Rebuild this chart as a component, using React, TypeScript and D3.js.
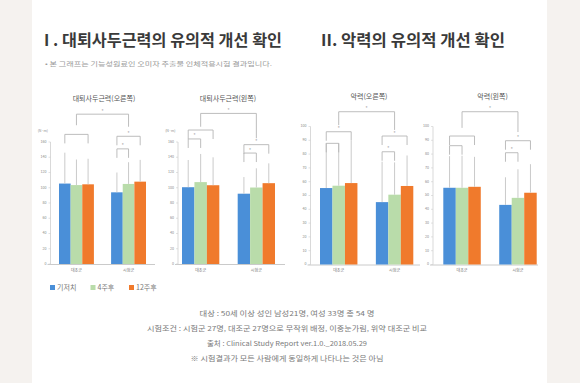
import React from "react";
import * as d3 from "d3";

const groups = ["대조군", "시험군"];
const seriesNames = ["기저치", "4주후", "12주후"];
const seriesColors = ["#4a8fd8", "#b9dcaa", "#f07a2c"];

const chartTitles = ["대퇴사두근력(오른쪽)", "대퇴사두근력(왼쪽)", "악력(오른쪽)", "악력(왼쪽)"];
const torqueTicks = [0, 20, 40, 60, 80, 100, 120, 140, 160];
const gripTicks = [0, 10, 20, 30, 40, 50, 60, 70, 80, 90, 100];
const torqueUnit = "(N·m)";

// means [group][series], upper error bar end [group][series]
const kneeRightMeans = [[105.5, 103.5, 104.5], [94, 105, 108]];
const kneeRightErr = [[146, 137, 138], [120, 133.5, 136.5]];
const kneeLeftMeans = [[100.7, 107.4, 103.3], [92.2, 100.3, 106]];
const kneeLeftErr = [[136.4, 144.3, 139.9], [114, 125.5, 132]];
const gripRightMeans = [[55.4, 57.1, 59], [45.2, 50.6, 56.9]];
const gripRightErr = [[88, 88, 89.5], [74.5, 74, 79]];
const gripLeftMeans = [[55.6, 55.6, 56.3], [43.2, 48.3, 52]];
const gripLeftErr = [[78.5, 78.8, 78], [63.2, 69, 72.7]];

// significance brackets: [groupA, seriesA, groupB, seriesB, level, legEndA, legEndB, star]
const kneeRightBrackets: any[] = [
  [0, 1, 1, 1, 196.5, 182, 180, true],
  [0, 0, 0, 2, 170, null, null, false],
  [1, 0, 1, 2, 167.5, null, null, true],
  [1, 0, 1, 1, 151, null, null, true],
];
const kneeLeftBrackets: any[] = [
  [0, 1, 1, 1, 197.5, 180, 165, true],
  [0, 0, 0, 2, 175.7, null, null, false],
  [0, 0, 0, 1, 164, null, null, true],
  [1, 0, 1, 2, 156.5, null, null, true],
  [1, 0, 1, 1, 145.5, null, null, true],
];
const gripRightBrackets: any[] = [
  [0, 1, 1, 1, 110.7, 101, 97.5, true],
  [0, 0, 0, 2, 96.2, null, null, true],
  [0, 0, 0, 1, 87.8, null, null, false],
  [1, 0, 1, 2, 93.1, null, null, true],
  [1, 0, 1, 1, 81.7, null, null, true],
];
const gripLeftBrackets: any[] = [
  [0, 1, 1, 1, 110.7, 99, 96, true],
  [0, 0, 0, 2, 93.1, null, null, false],
  [0, 0, 0, 1, 86.1, null, null, false],
  [1, 0, 1, 2, 89.7, null, null, true],
  [1, 0, 1, 1, 81, null, null, true],
];

const footerLines = [
  "대상 : 50세 이상 성인 남성21명, 여성 33명 총 54 명",
  "시험조건 : 시험군 27명, 대조군 27명으로 무작위 배정, 이중눈가림, 위약 대조군 비교",
  "출처 : Clinical Study Report ver.1.0._2018.05.29",
  "※ 시험결과가 모든 사람에게 동일하게 나타나는 것은 아님",
];

const FONT = "'Noto Sans CJK KR', 'Noto Sans', sans-serif";

type ChartProps = {
  title: string;
  titleX: number;
  titleY: number;
  axisX: number;
  axisRight: number;
  barL: number;
  barR: number;
  ticks: number[];
  yMax: number;
  base: number;
  top: number;
  unit?: string;
  means: number[][];
  errs: number[][];
  brackets: any[];
};

function Chart(p: ChartProps) {
  const y = d3.scaleLinear().domain([0, p.yMax]).range([p.base, p.top]);
  const gx = d3.scaleBand<string>().domain(groups).range([p.barL, p.barR]).paddingInner(0.33);
  const sx = d3.scaleBand<string>().domain(seriesNames).range([0, gx.bandwidth()]);
  const cx = (g: number, s: number) => (gx(groups[g]) as number) + (sx(seriesNames[s]) as number) + sx.bandwidth() / 2;
  const drop = 9;
  const grey = "#b5b5b5";
  return (
    <g>
      <text x={p.titleX} y={p.titleY} fontSize={7} fill="#555" textAnchor="middle" fontFamily={FONT}>
        {p.title}
      </text>
      {/* axes */}
      <line x1={p.axisX} x2={p.axisX} y1={p.base} y2={y(p.ticks[p.ticks.length - 1])} stroke="#cfcfcf" strokeWidth={0.8} />
      <line x1={p.axisX - 3} x2={p.axisRight} y1={p.base + 0.5} y2={p.base + 0.5} stroke="#bdbdbd" strokeWidth={0.8} />
      {p.ticks.map((t) => (
        <g key={t}>
          <line x1={p.axisX - 2} x2={p.axisX} y1={y(t)} y2={y(t)} stroke="#cfcfcf" strokeWidth={0.6} />
          <text x={p.axisX - 4} y={y(t)} fontSize={3.6} fill="#888" textAnchor="end" dominantBaseline="middle" fontFamily={FONT}>
            {t}
          </text>
        </g>
      ))}
      {p.unit && (
        <text x={p.axisX - 2.5} y={y(p.ticks[p.ticks.length - 1]) - 11} fontSize={3.6} fill="#888" textAnchor="end" dominantBaseline="middle" fontFamily={FONT}>
          {p.unit}
        </text>
      )}
      {/* bars */}
      {p.means.map((row, g) =>
        row.map((v, s) => (
          <rect
            key={`b${g}${s}`}
            x={(gx(groups[g]) as number) + (sx(seriesNames[s]) as number)}
            y={y(v)}
            width={sx.bandwidth()}
            height={p.base - y(v)}
            fill={seriesColors[s]}
          />
        ))
      )}
      {/* error bars */}
      {p.errs.map((row, g) =>
        row.map((v, s) => (
          <line key={`e${g}${s}`} x1={cx(g, s)} x2={cx(g, s)} y1={y(p.means[g][s])} y2={y(v)} stroke="#c4c4c4" strokeWidth={0.9} />
        ))
      )}
      {/* group labels */}
      {groups.map((gname) => (
        <text key={gname} x={(gx(gname) as number) + gx.bandwidth() / 2} y={272} fontSize={4} fill="#777" textAnchor="middle" fontFamily={FONT}>
          {gname}
        </text>
      ))}
      {/* brackets */}
      {p.brackets.map((b, i) => {
        const xa = cx(b[0], b[1]);
        const xb = cx(b[2], b[3]);
        const yl = y(b[4]);
        const ya = b[5] != null ? y(b[5]) : yl + drop;
        const yb = b[6] != null ? y(b[6]) : yl + drop;
        return (
          <g key={`k${i}`}>
            <path d={`M${xa},${ya}V${yl}H${xb}V${yb}`} fill="none" stroke={grey} strokeWidth={0.9} />
            {b[7] && (
              <text x={(xa + xb) / 2} y={yl - 1.5} fontSize={5.5} fill="#999" textAnchor="middle" fontFamily={FONT}>
                *
              </text>
            )}
          </g>
        );
      })}
    </g>
  );
}

export default function App() {
  return (
    <svg width={580} height={383} style={{ position: "absolute", left: 0, top: 0 }} fontFamily={FONT}>
      <rect x={0} y={0} width={580} height={383} fill="#f5f2ef" />
      <rect x={32} y={0} width={515} height={383} fill="#ffffff" />
      <text x={44} y={46} fontSize={16} fontWeight="bold" fill="#3a3a3a" textLength={238} lengthAdjust="spacingAndGlyphs">
        I . 대퇴사두근력의 유의적 개선 확인
      </text>
      <text x={321} y={46} fontSize={16} fontWeight="bold" fill="#3a3a3a" textLength={184} lengthAdjust="spacingAndGlyphs">
        II. 악력의 유의적 개선 확인
      </text>
      <text x={45} y={65.5} fontSize={6} fill="#9a9a9a" textLength={227} lengthAdjust="spacingAndGlyphs">
        • 본 그래프는 기능성원료인 오미자 추출물 인체적용시험 결과입니다.
      </text>

      <Chart title={chartTitles[0]} titleX={104} titleY={101} axisX={50.5} axisRight={155} barL={59} barR={146}
        ticks={torqueTicks} yMax={160} base={264} top={142} unit={torqueUnit}
        means={kneeRightMeans} errs={kneeRightErr} brackets={kneeRightBrackets} />
      <Chart title={chartTitles[1]} titleX={228} titleY={101} axisX={178} axisRight={285} barL={182} barR={275}
        ticks={torqueTicks} yMax={160} base={264} top={142} unit={torqueUnit}
        means={kneeLeftMeans} errs={kneeLeftErr} brackets={kneeLeftBrackets} />
      <Chart title={chartTitles[2]} titleX={369} titleY={99} axisX={310.5} axisRight={420} barL={320} barR={413.3}
        ticks={gripTicks} yMax={100} base={264.5} top={126.5}
        means={gripRightMeans} errs={gripRightErr} brackets={gripRightBrackets} />
      <Chart title={chartTitles[3]} titleX={492.5} titleY={99} axisX={433} axisRight={538} barL={443.3} barR={536.7}
        ticks={gripTicks} yMax={100} base={264.5} top={126.5}
        means={gripLeftMeans} errs={gripLeftErr} brackets={gripLeftBrackets} />

      {/* legend */}
      {seriesNames.map((n, i) => {
        const lx = [50, 90.5, 129][i];
        return (
          <g key={n}>
            <rect x={lx} y={285} width={5} height={5} fill={seriesColors[i]} />
            <text x={lx + 7} y={290} fontSize={7} fill="#777" fontFamily={FONT}>
              {n}
            </text>
          </g>
        );
      })}

      {/* footer */}
      {footerLines.map((t, i) => (
        <text key={i} x={287} y={[315.5, 331, 345.5, 360.5][i]} fontSize={6.8} fill="#7a7a7a" textAnchor="middle"
          textLength={[175, 280, 160, 193][i]} lengthAdjust="spacingAndGlyphs">
          {t}
        </text>
      ))}
    </svg>
  );
}
